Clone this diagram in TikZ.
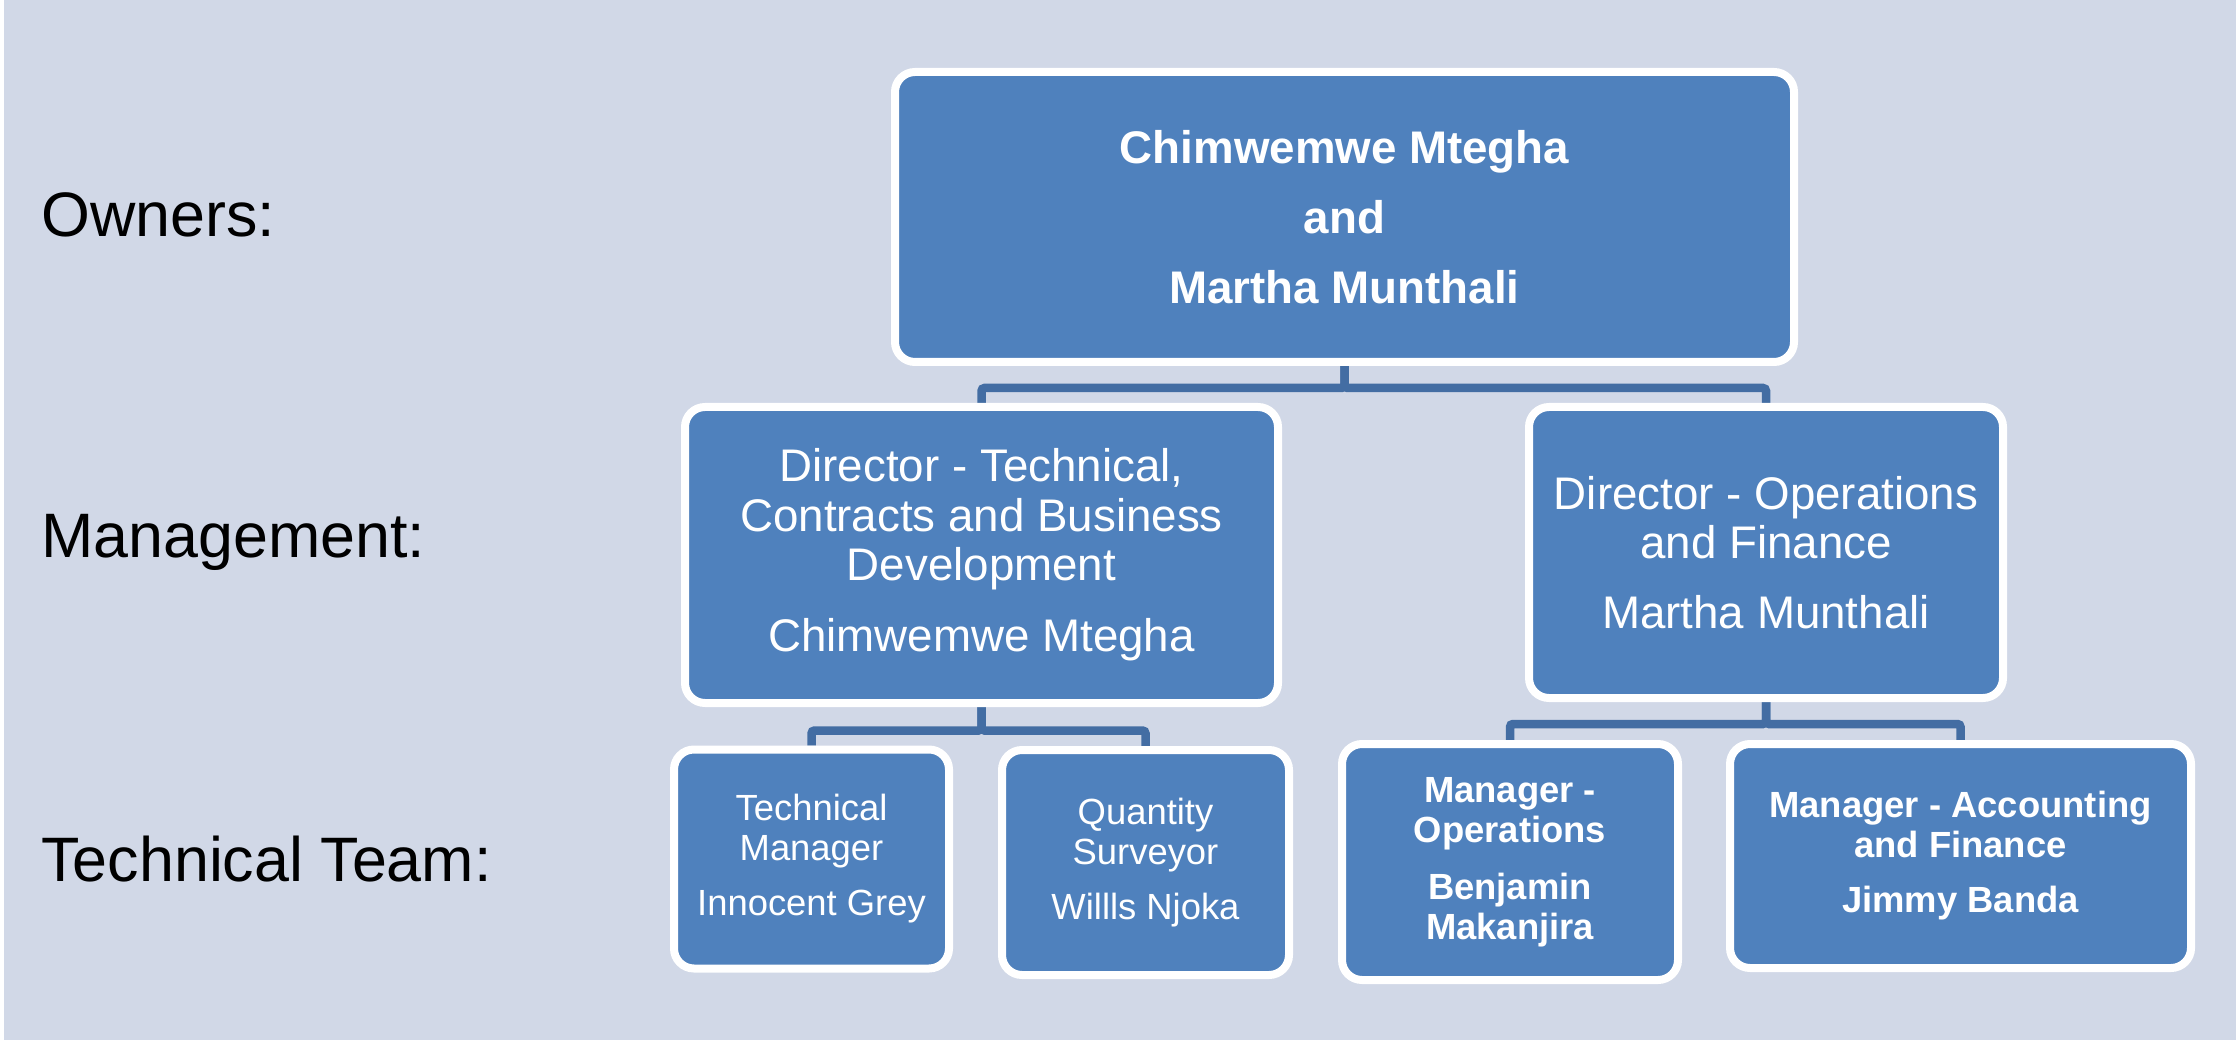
\documentclass[tikz,border=0pt]{standalone}
\usepackage{fontspec}
\setmainfont{Liberation Sans}
\usetikzlibrary{positioning,backgrounds}

\definecolor{bgblue}{RGB}{209,216,231}
\definecolor{boxblue}{RGB}{79,129,189}
\definecolor{lineblue}{RGB}{67,109,163}

\begin{document}
\begin{tikzpicture}[
    x=0.5pt, y=0.5pt,
    every node/.style={text=white},
    box/.style={draw=white,line width=4pt,fill=boxblue,rounded corners=10pt,align=center,inner sep=0pt},
    bigtext/.style={font=\fontsize{22.85pt}{24.75pt}\selectfont},
    smalltext/.style={font=\fontsize{18.2pt}{20pt}\selectfont},
    level/.style={text=black,anchor=base west,inner sep=0pt,font=\fontsize{31.4pt}{36pt}\selectfont},
    conn/.style={draw=lineblue,line width=4.25pt,rounded corners=1.5pt}
]
\useasboundingbox (0,0) rectangle (2236,1040);

% Level labels
\node[level] (lblOwners) at (41,803) {Owners:};
\node[level] (lblMgmt)   at (41,482.3) {Management:};
\node[level] (lblTeam)   at (41,158.2) {Technical Team:};

% Owners
\node[box,minimum width=449.5pt,minimum height=145pt,
      font=\fontsize{22.85pt}{35pt}\selectfont\bfseries] (top) at (1344.5,823)
    {Chimwemwe Mtegha\\and\\Martha Munthali};

% Directors
\node[box,bigtext,minimum width=296.5pt,minimum height=148pt] (dirL) at (981.5,485)
    {Director - Technical,\\Contracts and Business\\Development\\[10.75pt]Chimwemwe Mtegha};
\node[box,bigtext,minimum width=237pt,minimum height=145.5pt] (dirR) at (1766,487.5)
    {Director - Operations\\and Finance\\[10pt]Martha Munthali};

% Technical team
\node[box,smalltext,minimum width=137.5pt,minimum height=109.5pt] (techM) at (811.5,181)
    {Technical\\Manager\\[7.5pt]Innocent Grey};
\node[box,smalltext,minimum width=143.5pt,minimum height=112.5pt] (qs) at (1145.5,177.5)
    {Quantity\\Surveyor\\[7.5pt]Willls Njoka};
\node[box,minimum width=168pt,minimum height=118pt,
      font=\fontsize{18.2pt}{20pt}\selectfont\bfseries] (mgrOps) at (1510,178)
    {Manager -\\Operations\\[8.5pt]Benjamin\\Makanjira};
\node[box,minimum width=230.5pt,minimum height=112pt,
      font=\fontsize{18.2pt}{20pt}\selectfont\bfseries] (mgrAcc) at (1960.5,184)
    {Manager - Accounting\\and Finance\\[7.5pt]Jimmy Banda};

% Background and connectors
\begin{scope}[on background layer]
  \fill[white] (0,0) rectangle (2236,1040);
  \fill[bgblue] (4,0) rectangle (2236,1040);
  \draw[conn] (top.south) -- ++(0,-22) -| (dirL.north);
  \draw[conn] (top.south) -- ++(0,-22) -| (dirR.north);
  \draw[conn] (dirL.south) -- ++(0,-23.5) -| (techM.north);
  \draw[conn] (dirL.south) -- ++(0,-23.5) -| (qs.north);
  \draw[conn] (dirR.south) -- ++(0,-22) -| (mgrOps.north);
  \draw[conn] (dirR.south) -- ++(0,-22) -| (mgrAcc.north);
\end{scope}

\end{tikzpicture}
\end{document}
